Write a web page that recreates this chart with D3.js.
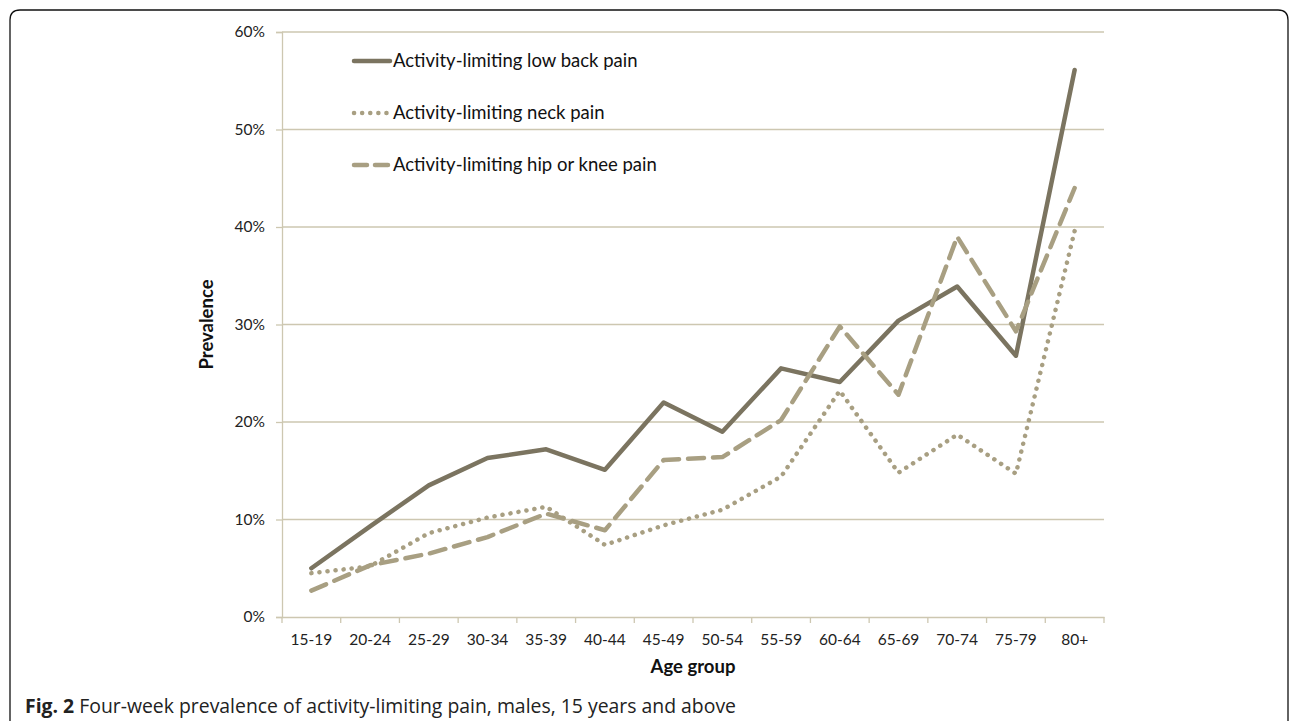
<!DOCTYPE html>
<html>
<head>
<meta charset="utf-8">
<script src="https://cdn.jsdelivr.net/npm/d3@7"></script>
<style>
  body { margin: 0; background: #fff; }
  svg text { font-family: Lato, "Open Sans", sans-serif; }
</style>
</head>
<body>
<div id="chart"></div>
<script>
// Age groups on the x axis
const ageGroups = ['15-19', '20-24', '25-29', '30-34', '35-39', '40-44', '45-49',
    '50-54', '55-59', '60-64', '65-69', '70-74', '75-79', '80+'];

// Prevalence (%)
const lowBack = [5.0, 9.3, 13.5, 16.3, 17.2, 15.1, 22.0, 19.0, 25.5, 24.1, 30.4, 33.9, 26.8, 56.1];
const neck = [4.5, 5.2, 8.6, 10.2, 11.3, 7.4, 9.4, 11.0, 14.4, 23.2, 14.8, 18.7, 14.7, 39.6];
const hipKnee = [2.7, 5.3, 6.5, 8.2, 10.6, 8.9, 16.1, 16.4, 20.2, 29.8, 22.8, 39.0, 29.3, 44.0];

const yTicks = [0, 10, 20, 30, 40, 50, 60];

const seriesNames = ['Activity-limiting low back pain', 'Activity-limiting neck pain',
    'Activity-limiting hip or knee pain'];

const series = [
    { name: seriesNames[0], values: lowBack, color: '#7b7460', dash: null, legendDash: null },
    { name: seriesNames[1], values: neck, color: '#a89f82', dash: '0.1 8', legendDash: '0.1 8' },
    { name: seriesNames[2], values: hipKnee, color: '#a89f82', dash: '16 9', legendDash: '13 8' }
];

const width = 1290;
const height = 721;
const margin = { top: 32, right: 186, bottom: 104, left: 282 };

const svg = d3.select('#chart').append('svg')
    .attr('width', width)
    .attr('height', height);

// Figure frame (open at the bottom, runs off the page)
svg.append('path')
    .attr('d', 'M10,740 L10,20 Q10,10 20,10 L1278,10 Q1288,10 1288,20 L1288,740')
    .attr('fill', 'none')
    .attr('stroke', '#111')
    .attr('stroke-width', 1.3);

const x = d3.scaleBand()
    .domain(ageGroups)
    .range([margin.left, width - margin.right]);

const y = d3.scaleLinear()
    .domain([0, 60])
    .range([height - margin.bottom, margin.top]);

const gridColor = '#cdc7b1';

// Horizontal gridlines
svg.append('g')
    .selectAll('line')
    .data(yTicks.filter(d => d > 0))
    .join('line')
    .attr('x1', margin.left)
    .attr('x2', width - margin.right)
    .attr('y1', d => y(d))
    .attr('y2', d => y(d))
    .attr('stroke', gridColor)
    .attr('stroke-width', 1.3);

// Y axis
const yAxis = svg.append('g')
    .attr('transform', `translate(${margin.left},0)`)
    .call(d3.axisLeft(y).tickValues(yTicks).tickFormat(d => d + '%').tickSize(6).tickPadding(11));
yAxis.select('.domain').attr('stroke', gridColor).attr('stroke-width', 1.3);
yAxis.selectAll('.tick line').attr('stroke', gridColor).attr('stroke-width', 1.3);
yAxis.selectAll('.tick text').attr('font-size', 15.5).attr('fill', '#222')
    .style('font-family', 'Lato, sans-serif');

// X axis
const xAxis = svg.append('g')
    .attr('transform', `translate(0,${y(0)})`)
    .call(d3.axisBottom(x).tickSize(0).tickPadding(17));
xAxis.select('.domain').attr('stroke', gridColor).attr('stroke-width', 1.3);
xAxis.selectAll('.tick text').attr('font-size', 15.5).attr('fill', '#222')
    .style('font-family', 'Lato, sans-serif');

// Tick marks between categories
svg.append('g')
    .selectAll('line')
    .data(ageGroups.concat(['end']))
    .join('line')
    .attr('x1', (d, i) => margin.left + i * x.bandwidth())
    .attr('x2', (d, i) => margin.left + i * x.bandwidth())
    .attr('y1', y(0))
    .attr('y2', y(0) + 6)
    .attr('stroke', gridColor)
    .attr('stroke-width', 1.3);

// Lines
const line = d3.line()
    .x((d, i) => x(ageGroups[i]) + x.bandwidth() / 2)
    .y(d => y(d));

series.forEach(s => {
    svg.append('path')
        .datum(s.values)
        .attr('d', line)
        .attr('fill', 'none')
        .attr('stroke', s.color)
        .attr('stroke-width', 4.5)
        .attr('stroke-linejoin', 'round')
        .attr('stroke-linecap', 'round')
        .attr('stroke-dasharray', s.dash);
});

// Legend
const legend = svg.append('g');
series.forEach((s, i) => {
    const ly = 61 + i * 52;
    legend.append('line')
        .attr('x1', 354).attr('x2', 390)
        .attr('y1', ly).attr('y2', ly)
        .attr('stroke', s.color)
        .attr('stroke-width', 4.5)
        .attr('stroke-linecap', 'round')
        .attr('stroke-dasharray', s.legendDash);
    legend.append('text')
        .attr('x', 393).attr('y', ly + 6)
        .attr('font-size', 18.5)
        .attr('fill', '#111')
        .text(s.name);
});

// Axis titles
svg.append('text')
    .attr('transform', `translate(213,${(y(0) + y(60)) / 2}) rotate(-90)`)
    .attr('text-anchor', 'middle')
    .attr('font-size', 18.5)
    .attr('font-weight', 'bold')
    .attr('fill', '#111')
    .text('Prevalence');

svg.append('text')
    .attr('x', (margin.left + width - margin.right) / 2)
    .attr('y', 673)
    .attr('text-anchor', 'middle')
    .attr('font-size', 18.5)
    .attr('font-weight', 'bold')
    .attr('fill', '#111')
    .text('Age group');

// Caption
const caption = svg.append('text')
    .attr('x', 25)
    .attr('y', 713)
    .attr('font-size', 19.4)
    .attr('fill', '#222')
    .style('font-family', '"Open Sans", sans-serif');
caption.append('tspan').attr('font-weight', 'bold').text('Fig. 2');
caption.append('tspan').text(' Four-week prevalence of activity-limiting pain, males, 15 years and above');
</script>
</body>
</html>
